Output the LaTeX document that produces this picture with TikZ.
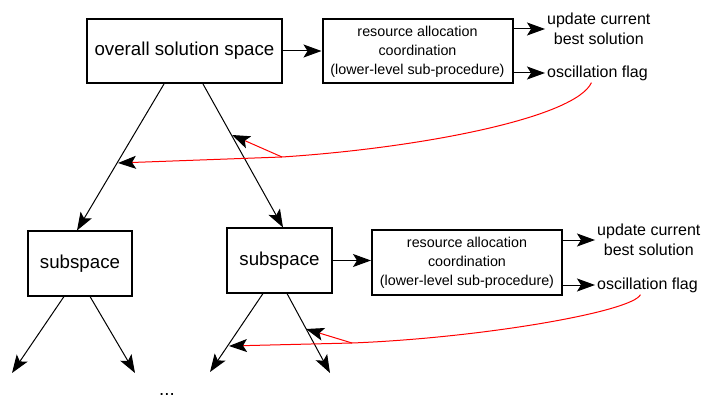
\documentclass[tikz,border=0pt]{standalone}
\usepackage{fontspec}
\setmainfont{Liberation Sans}
\usetikzlibrary{arrows.meta,positioning}
\definecolor{ink}{HTML}{000000}
\definecolor{flagred}{HTML}{FF0000}
\tikzset{
  box/.style={draw=ink,line width=2pt,fill=white,align=center,inner sep=2pt},
  spacebox/.style={box,font=\fontsize{18.7}{22}\selectfont,minimum height=64pt},
  alloc/.style={box,font=\fontsize{14.3}{19}\selectfont,minimum width=190pt,minimum height=64pt},
  result/.style={font=\fontsize{16}{20}\selectfont,align=center,inner sep=2pt,anchor=west},
  flow/.style={-{Stealth[length=18pt,width=13pt,inset=4pt]},line width=1pt,draw=ink},
  feedback/.style={-{Stealth[length=18pt,width=13pt,inset=4pt,color=ink]},line width=1pt,draw=flagred}
}

\begin{document}
\begin{tikzpicture}[x=1pt,y=-1pt]
\useasboundingbox (0,0) rectangle (704,398);
% upper level
\node[spacebox,minimum width=195pt] (overall) at (184.5,51) {overall solution space};
\node[alloc] (alloc1) at (417.5,51.5) {resource allocation\\coordination\\(lower-level sub-procedure)};
\node[result] (upd1) at (545,29) {update current\\best solution};
\node[result] (osc1) at (545,73) {oscillation flag};

% lower level
\node[spacebox,minimum width=104pt] (sub1) at (80,263.5) {subspace};
\node[spacebox,minimum width=105pt] (sub2) at (279.5,260.5) {subspace};
\node[alloc] (alloc2) at (467,262.5) {resource allocation\\coordination\\(lower-level sub-procedure)};
\node[result] (upd2) at (595,240) {update current\\best solution};
\node[result] (osc2) at (595,285) {oscillation flag};
\node[font=\fontsize{18.7}{22}\selectfont,anchor=base,inner sep=0pt] (dots) at (167,395) {...};

\coordinate (leaf1) at (12,373);
\coordinate (leaf2) at (135,373);
\coordinate (leaf3) at (210,372);
\coordinate (leaf4) at (330,373);
\coordinate (j1) at (282,157);
\coordinate (hit1) at (118,163);
\coordinate (hit2) at (232,135);
\coordinate (j2) at (352,343);
\coordinate (hit3) at (229,346);
\coordinate (hit4) at (306,329);

\draw[flow] (overall.east) -- (overall.east -| alloc1.west);
\draw[flow] (alloc1.east |- upd1.west) -- (upd1.west);
\draw[flow] (alloc1.east |- osc1.west) -- (osc1.west);
\draw[flow] ([xshift=-20.5pt]overall.south) -- ([xshift=-3pt]sub1.north);
\draw[flow] ([xshift=18.5pt]overall.south) -- ([xshift=3.5pt]sub2.north);

\draw[flow] (sub2.east) -- (sub2.east -| alloc2.west);
\draw[flow] (alloc2.east |- upd2.west) -- (upd2.west);
\draw[flow] (alloc2.east |- osc2.west) -- (osc2.west);
\draw[flow] ([xshift=-16pt]sub1.south) -- (leaf1);
\draw[flow] ([xshift=10pt]sub1.south) -- (leaf2);
\draw[flow] ([xshift=-16.5pt]sub2.south) -- (leaf3);
\draw[flow] ([xshift=7.5pt]sub2.south) -- (leaf4);

% oscillation feedback
\draw[feedback] ([xshift=-6pt]osc1.south) .. controls (575,118) and (420,148) .. (j1) -- (hit1);
\draw[feedback] (j1) -- (hit2);
\draw[feedback] ([xshift=-7pt]osc2.south) .. controls (632,312) and (480,338) .. (j2) -- (hit3);
\draw[feedback] (j2) -- (hit4);
\end{tikzpicture}
\end{document}
